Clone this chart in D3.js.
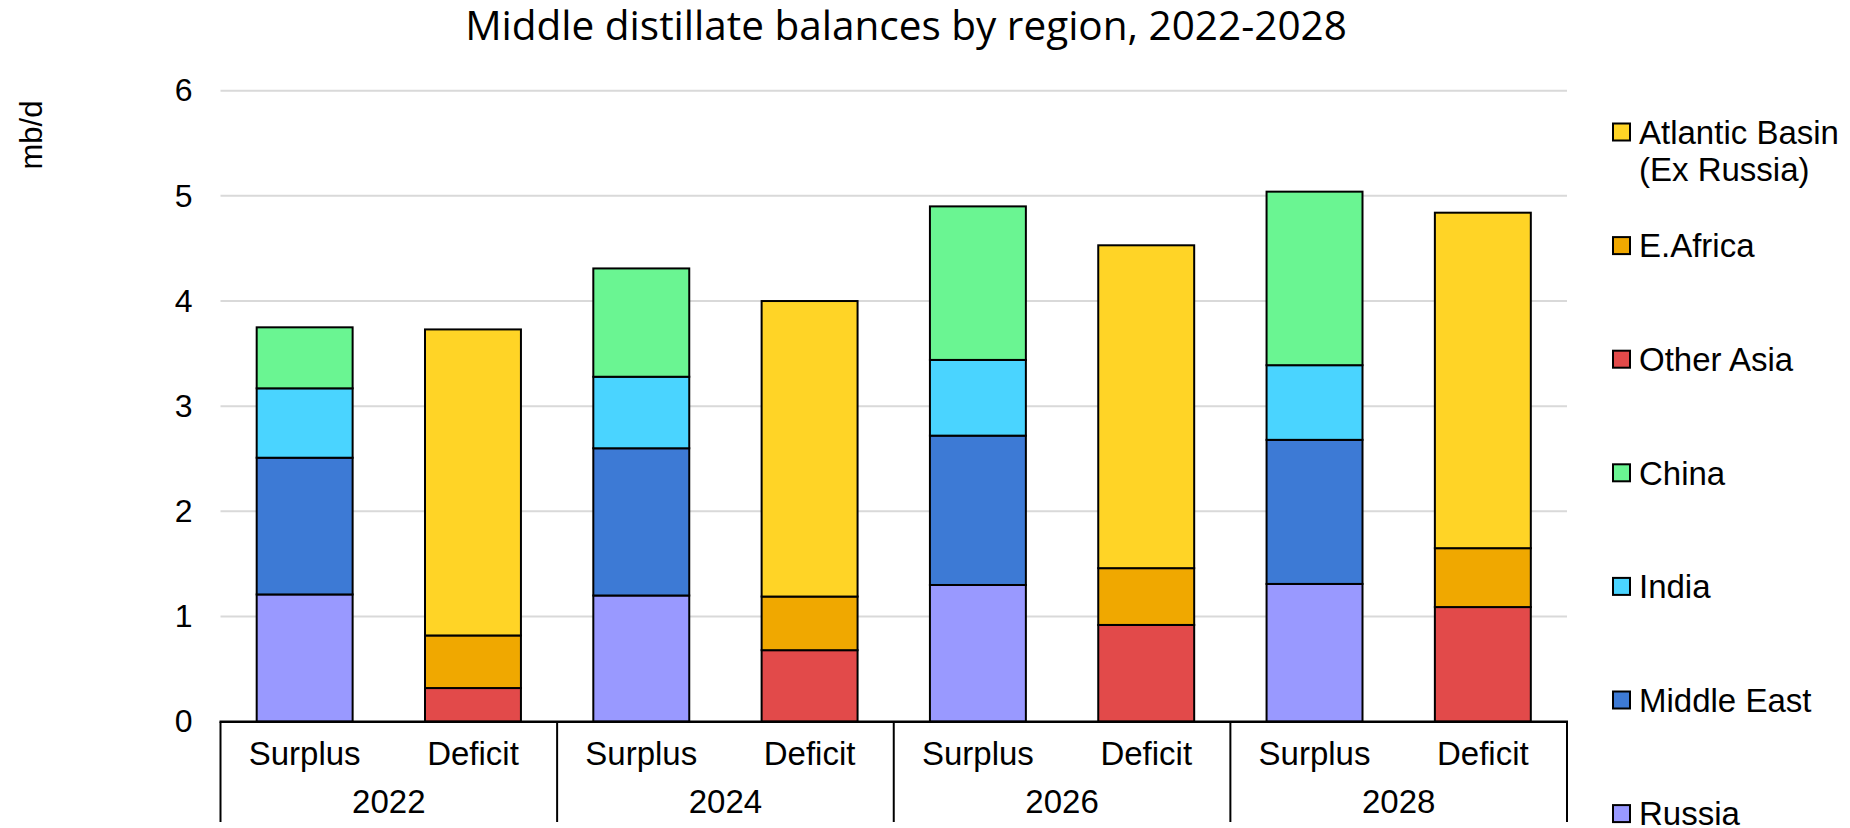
<!DOCTYPE html>
<html>
<head>
<meta charset="utf-8">
<script src="https://cdn.jsdelivr.net/npm/d3@7"></script>
<style>
  html, body { margin: 0; padding: 0; background: #ffffff; }
  svg { display: block; }
  text { font-family: "Liberation Sans", Arial, sans-serif; fill: #000; }
</style>
</head>
<body>
<svg id="chart" width="1850" height="828"></svg>
<script>
// Years and balance sides (x categories)
const years = ["2022", "2024", "2026", "2028"];
const sides = ["Surplus", "Deficit"];

// Surplus regions, mb/d (one value per year)
const russia     = [1.21, 1.20, 1.30, 1.31];
const middleEast = [1.30, 1.40, 1.42, 1.37];
const india      = [0.66, 0.68, 0.72, 0.71];
const china      = [0.58, 1.03, 1.46, 1.65];

// Deficit regions, mb/d (one value per year)
const otherAsia  = [0.32, 0.68, 0.92, 1.09];
const eAfrica    = [0.50, 0.51, 0.54, 0.56];
const atlantic   = [2.91, 2.81, 3.07, 3.19];

// Series names (stacking order, bottom to top) and fills
const seriesNames = ["Russia", "Middle East", "India", "China", "Other Asia", "E.Africa", "Atlantic Basin (Ex Russia)"];
const seriesColors = ["#9999FF", "#3D7AD5", "#4AD4FF", "#6AF592", "#E24A4A", "#F0A800", "#FFD426"];
const yTicks = [0, 1, 2, 3, 4, 5, 6];

const surplusSeries = { "Russia": russia, "Middle East": middleEast, "India": india, "China": china };
const deficitSeries = { "Other Asia": otherAsia, "E.Africa": eAfrica, "Atlantic Basin (Ex Russia)": atlantic };

// One row per bar
const rows = [];
years.forEach((yr, i) => {
  sides.forEach(side => {
    const src = side === "Surplus" ? surplusSeries : deficitSeries;
    const row = { key: yr + "|" + side, year: yr, side: side };
    seriesNames.forEach(n => { row[n] = src[n] ? src[n][i] : 0; });
    rows.push(row);
  });
});

const svg = d3.select("#chart");
const plotLeft = 220.5, plotRight = 1567, y0 = 721.7, yTop = 90.7;

const y = d3.scaleLinear().domain([0, 6]).range([y0, yTop]);
const x = d3.scaleBand().domain(rows.map(r => r.key)).range([plotLeft, plotRight])
  .paddingInner(0.43).paddingOuter(0.215);
const xGroup = d3.scaleBand().domain(years).range([plotLeft, plotRight]).padding(0);
const color = d3.scaleOrdinal().domain(seriesNames).range(seriesColors);

// Gridlines
svg.append("g").selectAll("line").data(yTicks.filter(t => t > 0)).join("line")
  .attr("x1", plotLeft).attr("x2", plotRight)
  .attr("y1", d => y(d)).attr("y2", d => y(d))
  .attr("stroke", "#D9D9D9").attr("stroke-width", 2);

// Y axis labels
const yAxis = d3.axisLeft(y).tickValues(yTicks).tickSize(0).tickPadding(28).tickFormat(d3.format("d"));
const gy = svg.append("g").attr("transform", `translate(${plotLeft},0)`).call(yAxis);
gy.select(".domain").remove();
gy.selectAll("text").attr("font-size", 32).attr("font-family", "Liberation Sans, Arial, sans-serif").attr("fill", "#000");

// Stacked bars
const stacked = d3.stack().keys(seriesNames)(rows);
svg.append("g").selectAll("g").data(stacked).join("g")
  .attr("fill", d => color(d.key))
  .selectAll("rect").data(d => d.filter(s => s[1] - s[0] > 0)).join("rect")
  .attr("x", d => x(d.data.key))
  .attr("width", x.bandwidth())
  .attr("y", d => y(d[1]))
  .attr("height", d => y(d[0]) - y(d[1]))
  .attr("stroke", "#000").attr("stroke-width", 2);

// Category axis: baseline, group separators, labels
svg.append("line").attr("x1", plotLeft - 1).attr("x2", plotRight + 1)
  .attr("y1", y0).attr("y2", y0).attr("stroke", "#000").attr("stroke-width", 2.5);
const bounds = years.map(yr => xGroup(yr)).concat([plotRight]);
svg.append("g").selectAll("line").data(bounds).join("line")
  .attr("x1", d => d).attr("x2", d => d).attr("y1", y0).attr("y2", 822)
  .attr("stroke", "#000").attr("stroke-width", 2);

svg.append("g").selectAll("text").data(rows).join("text")
  .attr("x", d => x(d.key) + x.bandwidth() / 2).attr("y", 765)
  .attr("text-anchor", "middle").attr("font-size", 33).text(d => d.side);
svg.append("g").selectAll("text").data(years).join("text")
  .attr("x", d => xGroup(d) + xGroup.bandwidth() / 2).attr("y", 813)
  .attr("text-anchor", "middle").attr("font-size", 33).text(d => d);

// Y axis title
svg.append("text").attr("transform", "translate(31,135) rotate(-90)")
  .attr("text-anchor", "middle").attr("dominant-baseline", "central")
  .attr("font-size", 31).text("mb/d");

// Chart title, sized to span its line
const title = svg.append("text").attr("x", 906).attr("y", 40).attr("text-anchor", "middle")
  .style("font-family", "'Open Sans', 'Noto Sans', sans-serif").attr("font-size", 40)
  .text("Middle distillate balances by region, 2022-2028");
const tw = title.node().getComputedTextLength();
title.attr("font-size", 40 * 882 / tw);

// Legend (top to bottom)
const legendOrder = seriesNames.slice().reverse();
const legendLines = { "Atlantic Basin (Ex Russia)": ["Atlantic Basin", "(Ex Russia)"] };
const legend = svg.append("g").selectAll("g").data(legendOrder).join("g")
  .attr("transform", (d, i) => `translate(1613,${132 + i * 113.6})`);
legend.append("rect").attr("x", 0).attr("y", -8.5).attr("width", 17).attr("height", 17)
  .attr("fill", d => color(d)).attr("stroke", "#000").attr("stroke-width", 2);
legend.append("text").attr("x", 26).attr("y", 0).attr("font-size", 33)
  .selectAll("tspan").data(d => legendLines[d] || [d]).join("tspan")
  .attr("x", 26).attr("dy", (d, i) => i === 0 ? "0.36em" : "1.12em").text(d => d);
</script>
</body>
</html>
